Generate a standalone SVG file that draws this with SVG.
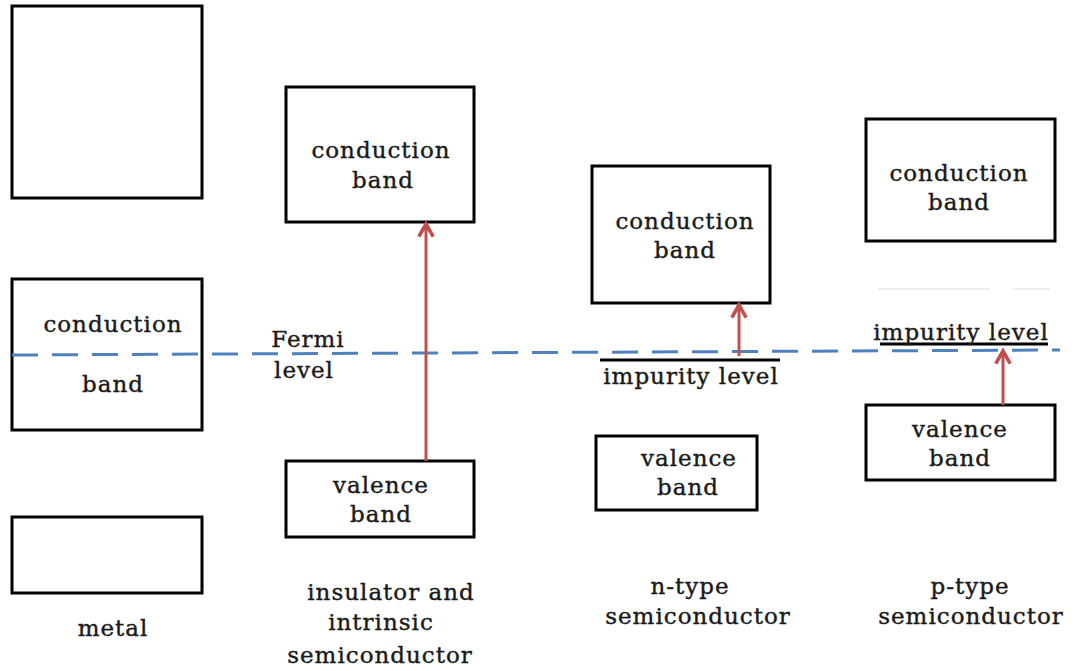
<svg xmlns="http://www.w3.org/2000/svg" width="1078" height="671" viewBox="0 0 1078 671">
<defs>
<style>
.box{fill:#fff;stroke:#000;stroke-width:3}
.t{font-family:"DejaVu Serif","Liberation Serif",serif;font-size:23px;fill:#1a1a1a;stroke:#1a1a1a;stroke-width:0.4;text-anchor:middle;letter-spacing:1px}
.arr{stroke:#c0504d;stroke-width:3;fill:none;marker-end:url(#ah)}
.lvl{stroke:#000;stroke-width:3}
</style>
<marker id="ah" viewBox="0 0 10 10" refX="8" refY="5" markerWidth="6" markerHeight="6" orient="auto" markerUnits="strokeWidth">
<path d="M1,1 L8,5 L1,9" fill="none" stroke="#c0504d" stroke-width="2"/>
</marker>
</defs>
<rect width="1078" height="671" fill="#fff"/>
<g id="metal-top"><rect class="box" x="12" y="6" width="190" height="192"/></g>
<g id="metal-mid"><rect class="box" x="12" y="279" width="190" height="151"/>
<text class="t" x="113" y="332">conduction</text><text class="t" x="113" y="392">band</text></g>
<g id="metal-bot"><rect class="box" x="12" y="517" width="190" height="76"/></g>
<g id="metal-label"><text class="t" x="113" y="636">metal</text></g>
<g id="ins-cb"><rect class="box" x="286" y="87" width="188" height="135"/>
<text class="t" x="381" y="158">conduction</text><text class="t" x="383" y="188">band</text></g>
<g id="ins-vb"><rect class="box" x="286" y="461" width="188" height="76"/>
<text class="t" x="381" y="493">valence</text><text class="t" x="381" y="522">band</text></g>
<g id="ins-label"><text class="t" x="391" y="600">insulator and</text><text class="t" x="381" y="630">intrinsic</text><text class="t" x="380" y="663">semiconductor</text></g>
<g id="n-cb"><rect class="box" x="592" y="166" width="178" height="137"/>
<text class="t" x="685" y="229">conduction</text><text class="t" x="685" y="258">band</text></g>
<g id="n-imp"><line class="lvl" x1="600" y1="360" x2="780" y2="360"/><text class="t" x="691" y="384">impurity level</text></g>
<g id="n-vb"><rect class="box" x="596" y="436" width="161" height="74"/>
<text class="t" x="689" y="466">valence</text><text class="t" x="688" y="495">band</text></g>
<g id="n-label"><text class="t" x="690" y="594">n-type</text><text class="t" x="698" y="624">semiconductor</text></g>
<g id="p-cb"><rect class="box" x="866" y="119" width="189" height="122"/>
<text class="t" x="959" y="181">conduction</text><text class="t" x="959" y="210">band</text></g>
<g id="p-imp"><line stroke="#ddd" stroke-width="1" x1="878" y1="289" x2="990" y2="289"/><line stroke="#ddd" stroke-width="1" x1="1013" y1="289" x2="1050" y2="289"/>
<line class="lvl" x1="880" y1="344" x2="1048" y2="344"/><text class="t" x="961" y="340">impurity level</text></g>
<g id="p-vb"><rect class="box" x="866" y="405" width="189" height="75"/>
<text class="t" x="960" y="437">valence</text><text class="t" x="960" y="466">band</text></g>
<g id="p-label"><text class="t" x="970" y="594">p-type</text><text class="t" x="971" y="624">semiconductor</text></g>
<g id="fermi"><text class="t" x="308" y="347">Fermi</text><text class="t" x="304" y="378">level</text></g>
<g id="connectors">
<line x1="12" y1="355" x2="1060" y2="350" stroke="#4f81bd" stroke-width="3" stroke-dasharray="26,14"/>
<line class="arr" x1="426" y1="461" x2="426" y2="224"/>
<line class="arr" x1="739" y1="356" x2="739" y2="305"/>
<line class="arr" x1="1003" y1="405" x2="1003" y2="351"/>
</g>
</svg>
